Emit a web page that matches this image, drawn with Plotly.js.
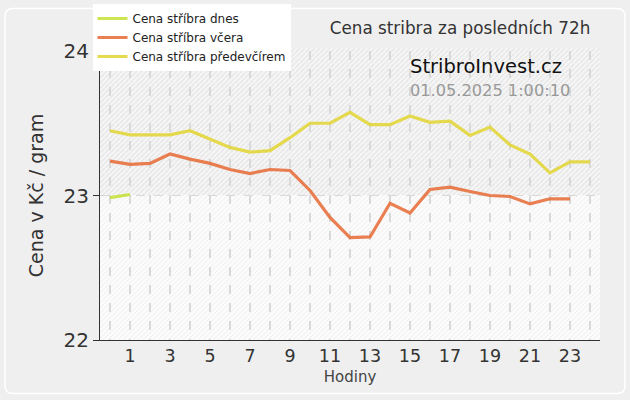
<!DOCTYPE html>
<html>
<head>
<meta charset="utf-8">
<script src="https://cdn.plot.ly/plotly-3.0.1.min.js"></script>
<style>html,body{margin:0;padding:0;background:#efefef;}#chart{width:630px;height:400px;}</style>
</head>
<body>
<div id="chart"></div>
<script>
// Data
const hoursToday = [0, 1];
const priceToday = [22.985, 23.007];
const hoursYesterday = [0,1,2,3,4,5,6,7,8,9,10,11,12,13,14,15,16,17,18,19,20,21,22,23];
const priceYesterday = [23.238, 23.215, 23.222, 23.287, 23.252, 23.222, 23.180, 23.152, 23.180, 23.173, 23.035, 22.848, 22.708, 22.713, 22.946, 22.879, 23.042, 23.058, 23.028, 23.000, 22.993, 22.942, 22.977, 22.977];
const hoursBefore = [0,1,2,3,4,5,6,7,8,9,10,11,12,13,14,15,16,17,18,19,20,21,22,23,24];
const priceBefore = [23.448, 23.420, 23.420, 23.420, 23.448, 23.390, 23.333, 23.300, 23.310, 23.400, 23.500, 23.500, 23.575, 23.490, 23.490, 23.550, 23.506, 23.515, 23.416, 23.474, 23.350, 23.286, 23.157, 23.233, 23.233];
const seriesNames = ["Cena stříbra dnes", "Cena stříbra včera", "Cena stříbra předevčírem"];
const xTickVals = [1,3,5,7,9,11,13,15,17,19,21,23];
const xTickText = ["1","3","5","7","9","11","13","15","17","19","21","23"];
const yTickVals = [22, 23, 24];

const colToday = "rgba(196,224,52,0.85)";
const colYesterday = "rgba(230,104,52,0.85)";
const colBefore = "rgba(226,212,48,0.85)";

const traces = [
  {x: hoursToday, y: priceToday, name: seriesNames[0], mode: "lines", line: {color: colToday, width: 3.2}},
  {x: hoursYesterday, y: priceYesterday, name: seriesNames[1], mode: "lines", line: {color: colYesterday, width: 3.2}},
  {x: hoursBefore, y: priceBefore, name: seriesNames[2], mode: "lines", line: {color: colBefore, width: 3.2}}
];

const svg = '<svg xmlns="http://www.w3.org/2000/svg" width="500" height="292" viewBox="0 0 500 292">' +
  '<defs>' +
  '<pattern id="a" width="5" height="5" patternUnits="userSpaceOnUse"><rect width="5" height="5" fill="#f5f5f5"/><path d="M-1,6 L6,-1" stroke="#e4e4e4" stroke-width="1.2"/></pattern>' +
  '<pattern id="b" width="5" height="5" patternUnits="userSpaceOnUse"><rect width="5" height="5" fill="#fbfbfb"/><path d="M-1,6 L6,-1" stroke="#efefef" stroke-width="1"/></pattern>' +
  '</defs>' +
  '<rect x="0" y="0" width="500" height="147" fill="url(#a)"/>' +
  '<rect x="0" y="147" width="500" height="145" fill="url(#b)"/>' +
  '</svg>';
const svgUri = "data:image/svg+xml;charset=utf-8," + encodeURIComponent(svg);

const font = "DejaVu Sans, Verdana, sans-serif";

const layout = {
  width: 630, height: 400,
  paper_bgcolor: "#efefef",
  plot_bgcolor: "#fafafa",
  margin: {l: 100, r: 30, t: 51, b: 60, pad: 0, autoexpand: false},
  font: {family: font, color: "#333"},
  showlegend: true,
  legend: {
    xref: "paper", yref: "container",
    x: -0.015, y: 0.99, xanchor: "left", yanchor: "top",
    bgcolor: "#ffffff", borderwidth: 0,
    font: {family: font, size: 12, color: "#222"},
    tracegroupgap: 0, itemwidth: 30
  },
  title: {
    text: "Cena stribra za posledních 72h",
    font: {family: font, size: 16.8, color: "#333"},
    xref: "paper", x: 0.72, xanchor: "center",
    yref: "container", y: 0.93, yanchor: "middle"
  },
  xaxis: {
    range: [-0.5, 24.5],
    tickmode: "array", tickvals: xTickVals, ticktext: xTickText,
    showgrid: true, gridcolor: "#d9d9d9", griddash: "dash", gridwidth: 1.2,
    minor: {tickmode: "linear", tick0: 0, dtick: 1, showgrid: true, gridcolor: "#d9d9d9", griddash: "dash", gridwidth: 1.2},
    showline: true, linecolor: "#333", linewidth: 1,
    ticks: "", zeroline: false,
    tickfont: {family: font, size: 17.5, color: "#333"},
    title: {text: "Hodiny", font: {family: font, size: 15, color: "#444"}, standoff: 6},
    fixedrange: true
  },
  yaxis: {
    range: [22, 24],
    tickmode: "array", tickvals: yTickVals,
    showgrid: true, gridcolor: "#d9d9d9", griddash: "dash", gridwidth: 1.2,
    showline: true, linecolor: "#333", linewidth: 1,
    ticks: "outside", ticklen: 6, tickcolor: "#333",
    zeroline: false,
    tickfont: {family: font, size: 20, color: "#333"},
    title: {text: "Cena v Kč / gram", font: {family: font, size: 19, color: "#333"}, standoff: 14},
    fixedrange: true
  },
  images: [{
    source: svgUri, xref: "paper", yref: "paper",
    x: 0, y: 1.01, sizex: 1, sizey: 1.01, xanchor: "left", yanchor: "top",
    sizing: "stretch", layer: "below"
  }],
  shapes: [{
    type: "path", xref: "paper", yref: "paper",
    path: "M -0.174,1.147 L 1.034,1.147 Q 1.05,1.147 1.05,1.12 L 1.05,-0.158 Q 1.05,-0.185 1.034,-0.185 L -0.174,-0.185 Q -0.19,-0.185 -0.19,-0.158 L -0.19,1.12 Q -0.19,1.147 -0.174,1.147 Z",
    line: {color: "#ffffff", width: 1.5}, fillcolor: "rgba(0,0,0,0)", layer: "below"
  }],
  annotations: [
    {text: "StribroInvest.cz", xref: "paper", yref: "paper", x: 0.772, y: 0.945, xanchor: "center", yanchor: "middle", showarrow: false, font: {family: font, size: 19.5, color: "#111"}},
    {text: "01.05.2025 1:00:10", xref: "paper", yref: "paper", x: 0.78, y: 0.863, xanchor: "center", yanchor: "middle", showarrow: false, font: {family: font, size: 16.2, color: "#999"}}
  ]
};

Plotly.newPlot("chart", traces, layout, {displayModeBar: false, staticPlot: true});
</script>
</body>
</html>
